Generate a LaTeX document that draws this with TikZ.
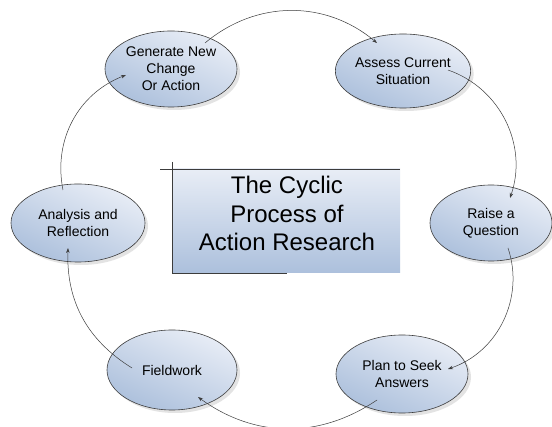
\documentclass[tikz,border=0pt]{standalone}
\usepackage{fontspec}
\setmainfont{Liberation Sans}
\usetikzlibrary{shapes.geometric,shadows,arrows.meta}
\definecolor{phaselight}{RGB}{232,237,246}
\definecolor{phasedark}{RGB}{172,192,220}
\definecolor{rimgray}{RGB}{60,60,60}
\tikzset{
  phase/.style 2 args={ellipse, draw=rimgray, line width=0.6pt, inner sep=0pt,
    top color=phaselight, bottom color=phasedark, shading angle=-25,
    minimum width=#1, minimum height=#2, align=center,
    font=\fontsize{14}{17}\selectfont,
    drop shadow={shadow xshift=3pt, shadow yshift=-3pt, opacity=.22}},
  cycarrow/.style={draw=rimgray, line width=0.5pt, -{Stealth[length=5pt,width=3.5pt]}}
}
\begin{document}
\begin{tikzpicture}[x=1pt,y=-1pt]
\useasboundingbox (0,0) rectangle (552,427);
\fill [white] (0,0) rectangle (552,427);
\shade [top color=phaselight, bottom color=phasedark] (172,169) rectangle (400,273);
\draw [rimgray] (160,169) -- (400,169);
\draw [rimgray] (172,162) -- (172,273) -- (287,273);
\node [align=center, font=\fontsize{24}{28.5}\selectfont] (title) at (287,213.5) {The Cyclic\\Process of\\Action Research};
\node [phase={132pt}{76pt}] (gen) at (171,69) {Generate New\\Change\\Or Action};
\node [phase={134pt}{74pt}] (ass) at (403,71) {Assess Current\\Situation};
\node [phase={122pt}{76pt}] (rai) at (491,223) {Raise a\\Question};
\node [phase={132pt}{78pt}] (pla) at (402,374) {Plan to Seek\\Answers};
\node [phase={130pt}{80pt}] (fie) at (172,370) {Fieldwork};
\node [phase={134pt}{78pt}] (ana) at (78,223) {Analysis and\\Reflection};
\draw [cycarrow] ([shift={(34,-26)}]gen.center) to[bend left=40] ([shift={(-26,-28)}]ass.center);
\draw [cycarrow] ([shift={(45,-1)}]ass.center) to[bend left=45] ([shift={(19,-25)}]rai.center);
\draw [cycarrow] ([shift={(17,25)}]rai.center) to[bend left=45] ([shift={(46,-5)}]pla.center);
\draw [cycarrow] ([shift={(-25,26)}]pla.center) to[bend left=35] ([shift={(26,27)}]fie.center);
\draw [cycarrow] ([shift={(-40,-2)}]fie.center) to[bend left=30] ([shift={(-10,25)}]ana.center);
\draw [cycarrow] ([shift={(-15,-33)}]ana.center) to[bend left=40] ([shift={(-45,6)}]gen.center);
\end{tikzpicture}
\end{document}
